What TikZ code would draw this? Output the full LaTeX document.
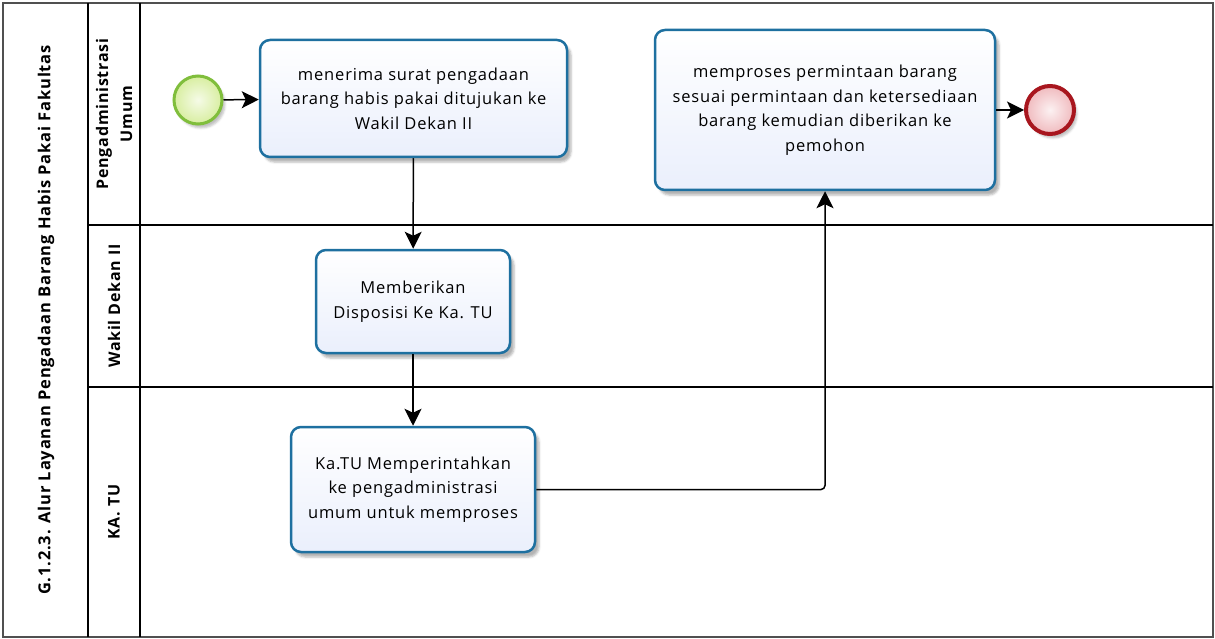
\documentclass[tikz,border=0pt]{standalone}
\usepackage{fontspec}
\setmainfont[LetterSpace=5]{Open Sans}
\usetikzlibrary{arrows.meta,shadows.blur}

\definecolor{taskline}{RGB}{30,112,160}
\definecolor{taskfill}{RGB}{234,239,252}
\definecolor{startline}{RGB}{128,190,60}
\definecolor{startfill}{RGB}{216,238,160}
\definecolor{endline}{RGB}{168,22,30}
\definecolor{endfill}{RGB}{240,186,190}
\definecolor{framegray}{RGB}{80,80,80}

\begin{document}
\begin{tikzpicture}[x=1pt, y=-1pt,
  every node/.style={font=\fontsize{16.5}{24.5}\selectfont},
  task/.style={draw=taskline, line width=2.5pt, rounded corners=10pt,
    top color=white, bottom color=taskfill, align=center, inner sep=0pt,
    blur shadow={shadow xshift=4pt, shadow yshift=-5pt, shadow opacity=30}},
  start event/.style={circle, draw=startline, line width=3pt, minimum size=48pt,
    inner color=startfill!25, outer color=startfill,
    blur shadow={shadow xshift=3pt, shadow yshift=-4pt, shadow opacity=25}},
  end event/.style={circle, draw=endline, line width=4pt, minimum size=48pt,
    inner color=endfill!20, outer color=endfill,
    blur shadow={shadow xshift=3pt, shadow yshift=-4pt, shadow opacity=25}},
  lane label/.style={rotate=90, align=center,
    font=\fontsize{16}{24}\selectfont\bfseries},
  flow/.style={-{Stealth[length=17pt,width=17pt,inset=4pt]}, line width=1.5pt}]

\useasboundingbox (0,0) rectangle (1215,639);

% pool and lanes
\draw [framegray, line width=2.5pt] (3,3) rectangle (1213,637);
\foreach \x in {88,140}
  \draw [line width=1.2pt] (\x,3) -- (\x,637);
\foreach \y in {225,387}
  \draw [line width=1.2pt] (88,\y) -- (1213,\y);

\node [lane label, font=\fontsize{16.5}{19}\selectfont\bfseries] (pool) at (46,320)
  {G.1.2.3. Alur Layanan Pengadaan Barang Habis Pakai Fakultas};
\foreach \l/\y [count=\i] in {{Pengadministrasi\\Umum}/114, Wakil Dekan II/306, KA. TU/512}
  \node [lane label] (lane-\i) at (114,\y) {\l};

% events and tasks
\node [start event] (start) at (198,100) {};
\node [end event] (end) at (1050,110) {};

\node [task, minimum width=307pt, minimum height=117pt] (task-1) at (413.5,98.5)
  {menerima surat pengadaan\\barang habis pakai ditujukan ke\\Wakil Dekan II};
\node [task, minimum width=194pt, minimum height=103pt] (task-2) at (413,301.5)
  {Memberikan\\Disposisi Ke Ka. TU};
\node [task, minimum width=244pt, minimum height=125pt] (task-3) at (413,489.5)
  {Ka.TU Memperintahkan\\ke pengadministrasi\\umum untuk memproses};
\node [task, minimum width=340pt, minimum height=160pt] (task-4) at (825,110)
  {memproses permintaan barang\\sesuai permintaan dan ketersediaan\\barang kemudian diberikan ke\\pemohon};

% sequence flows
\draw [flow] (start) -- (task-1);
\draw [flow] (task-1) -- (task-2);
\draw [flow] (task-2) -- (task-3);
\draw [flow, rounded corners=4pt] (task-3.east) -| (task-4.south);
\draw [flow] (task-4) -- (end);

\end{tikzpicture}
\end{document}
